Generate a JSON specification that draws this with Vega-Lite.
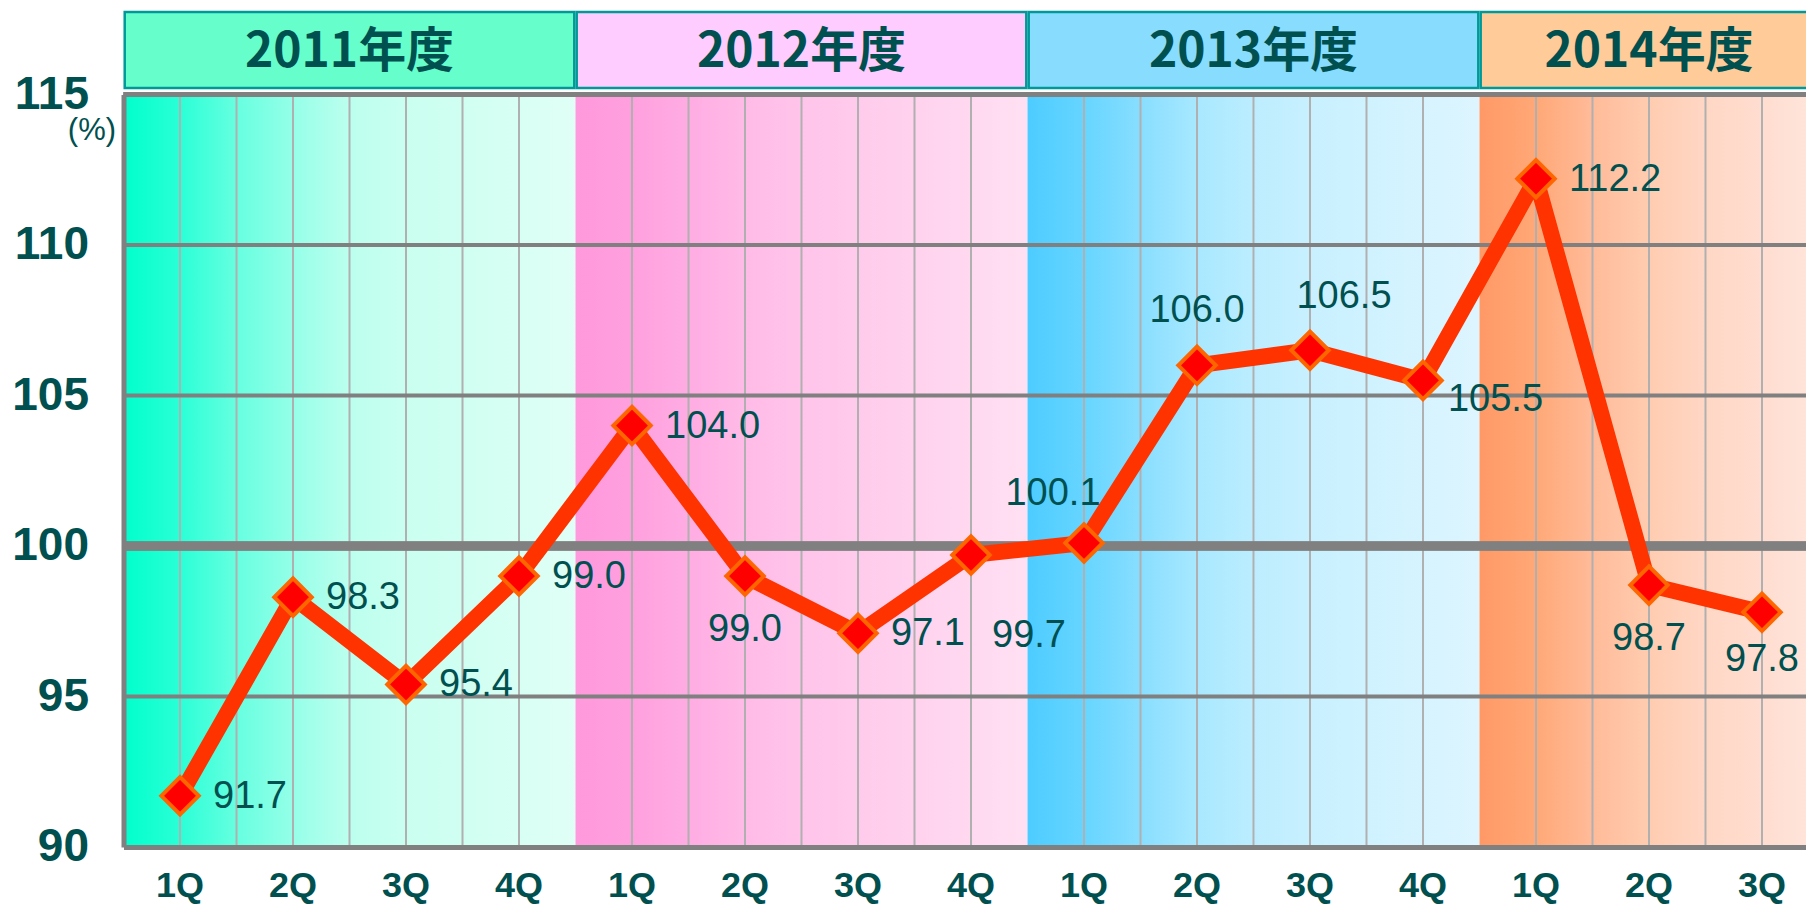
{
  "$schema": "https://vega.github.io/schema/vega-lite/v6.json",
  "width": 1695,
  "height": 752.6,
  "autosize": {"type": "none"},
  "padding": {"left": 123.5, "top": 94.4, "right": -12.5, "bottom": 61.6},
  "background": "white",
  "config": {"view": {"stroke": null}, "font": "Liberation Sans"},
  "resolve": {"axis": {"x": "independent", "y": "independent"}},
  "datasets": {
    "main": [
      {"key": "2011-1Q", "fy": "2011年度", "q": "1Q", "value": 91.7},
      {"key": "2011-2Q", "fy": "2011年度", "q": "2Q", "value": 98.3},
      {"key": "2011-3Q", "fy": "2011年度", "q": "3Q", "value": 95.4},
      {"key": "2011-4Q", "fy": "2011年度", "q": "4Q", "value": 99.0},
      {"key": "2012-1Q", "fy": "2012年度", "q": "1Q", "value": 104.0},
      {"key": "2012-2Q", "fy": "2012年度", "q": "2Q", "value": 99.0},
      {"key": "2012-3Q", "fy": "2012年度", "q": "3Q", "value": 97.1},
      {"key": "2012-4Q", "fy": "2012年度", "q": "4Q", "value": 99.7},
      {"key": "2013-1Q", "fy": "2013年度", "q": "1Q", "value": 100.1},
      {"key": "2013-2Q", "fy": "2013年度", "q": "2Q", "value": 106.0},
      {"key": "2013-3Q", "fy": "2013年度", "q": "3Q", "value": 106.5},
      {"key": "2013-4Q", "fy": "2013年度", "q": "4Q", "value": 105.5},
      {"key": "2014-1Q", "fy": "2014年度", "q": "1Q", "value": 112.2},
      {"key": "2014-2Q", "fy": "2014年度", "q": "2Q", "value": 98.7},
      {"key": "2014-3Q", "fy": "2014年度", "q": "3Q", "value": 97.8}
    ],
    "years": [
      {"fy": "2011年度", "first": "2011-1Q", "last": "2011-4Q"},
      {"fy": "2012年度", "first": "2012-1Q", "last": "2012-4Q"},
      {"fy": "2013年度", "first": "2013-1Q", "last": "2013-4Q"},
      {"fy": "2014年度", "first": "2014-1Q", "last": "2014-3Q"}
    ],
    "hgrid": [{"g": 95}, {"g": 105}, {"g": 110}]
  },
  "layer": [
    {
      "data": {"name": "years"},
      "transform": [{"filter": "datum.fy === '2011年度'"}],
      "mark": {"type": "rect", "fill": {"gradient": "linear", "x1": 0, "y1": 0, "x2": 1, "y2": 0, "stops": [
        {"offset": 0, "color": "#00FFCC"}, {"offset": 0.125, "color": "#2AFFD6"}, {"offset": 0.25, "color": "#66FFE0"},
        {"offset": 0.375, "color": "#95FFE8"}, {"offset": 0.5, "color": "#BCFFEE"}, {"offset": 0.625, "color": "#CAFFF0"},
        {"offset": 0.75, "color": "#D0FFF2"}, {"offset": 1, "color": "#E0FFF6"}]}},
      "encoding": {
        "x": {"field": "first", "type": "nominal", "bandPosition": 0, "title": null, "scale": {"type": "band", "paddingInner": 0, "paddingOuter": 0, "domain": ["2011-1Q","2011-2Q","2011-3Q","2011-4Q","2012-1Q","2012-2Q","2012-3Q","2012-4Q","2013-1Q","2013-2Q","2013-3Q","2013-4Q","2014-1Q","2014-2Q","2014-3Q"]},
          "axis": {"orient": "bottom", "labelExpr": "substring(datum.value, 5)", "labelAngle": 0, "labelFont": "Liberation Sans", "labelFontWeight": "bold", "labelFontSize": 36, "labelColor": "#005050", "labelPadding": 22, "ticks": false, "tickSize": 0, "domain": true, "domainColor": "#808080", "domainWidth": 5, "grid": false, "zindex": 1, "labelBaseline": "top"}},
        "x2": {"field": "last", "bandPosition": 1},
        "y": {"datum": 90, "type": "quantitative", "scale": {"domain": [90, 115], "nice": false, "zero": false},
          "axis": {"orient": "left", "values": [90, 95, 100, 105, 110, 115], "labelFont": "Liberation Sans", "labelFontWeight": "bold", "labelFontSize": 46, "labelColor": "#005050", "labelPadding": 35, "ticks": false, "tickSize": 0, "domain": true, "domainColor": "#808080", "domainWidth": 5, "grid": false, "zindex": 1, "labelFlush": false, "labelOverlap": false,
            "title": "(%)", "titleAngle": 0, "titleX": -8, "titleY": 36, "titleAlign": "right", "titleBaseline": "middle", "titleFont": "Liberation Sans", "titleFontSize": 31, "titleFontWeight": "normal", "titleColor": "#005050"}},
        "y2": {"datum": 115}
      }
    },
    {
      "data": {"name": "years"},
      "transform": [{"filter": "datum.fy === '2012年度'"}],
      "mark": {"type": "rect", "fill": {"gradient": "linear", "x1": 0, "y1": 0, "x2": 1, "y2": 0, "stops": [
        {"offset": 0, "color": "#FF99DD"}, {"offset": 0.125, "color": "#FFA0DE"}, {"offset": 0.25, "color": "#FFACE3"},
        {"offset": 0.375, "color": "#FFBBE7"}, {"offset": 0.5, "color": "#FFC4EA"}, {"offset": 0.625, "color": "#FFCBEC"},
        {"offset": 0.75, "color": "#FFD2EE"}, {"offset": 1, "color": "#FFE0F3"}]}},
      "encoding": {
        "x": {"field": "first", "type": "nominal", "bandPosition": 0, "axis": null, "scale": {"type": "band", "paddingInner": 0, "paddingOuter": 0, "domain": ["2011-1Q","2011-2Q","2011-3Q","2011-4Q","2012-1Q","2012-2Q","2012-3Q","2012-4Q","2013-1Q","2013-2Q","2013-3Q","2013-4Q","2014-1Q","2014-2Q","2014-3Q"]}},
        "x2": {"field": "last", "bandPosition": 1},
        "y": {"datum": 90, "type": "quantitative", "axis": null, "scale": {"domain": [90, 115], "nice": false, "zero": false}},
        "y2": {"datum": 115}
      }
    },
    {
      "data": {"name": "years"},
      "transform": [{"filter": "datum.fy === '2013年度'"}],
      "mark": {"type": "rect", "fill": {"gradient": "linear", "x1": 0, "y1": 0, "x2": 1, "y2": 0, "stops": [
        {"offset": 0, "color": "#4DCCFF"}, {"offset": 0.125, "color": "#66D5FF"}, {"offset": 0.25, "color": "#88DEFF"},
        {"offset": 0.375, "color": "#A8E8FF"}, {"offset": 0.5, "color": "#BCEDFF"}, {"offset": 0.625, "color": "#C8F0FF"},
        {"offset": 0.75, "color": "#CFF2FF"}, {"offset": 1, "color": "#DDF5FF"}]}},
      "encoding": {
        "x": {"field": "first", "type": "nominal", "bandPosition": 0, "axis": null, "scale": {"type": "band", "paddingInner": 0, "paddingOuter": 0, "domain": ["2011-1Q","2011-2Q","2011-3Q","2011-4Q","2012-1Q","2012-2Q","2012-3Q","2012-4Q","2013-1Q","2013-2Q","2013-3Q","2013-4Q","2014-1Q","2014-2Q","2014-3Q"]}},
        "x2": {"field": "last", "bandPosition": 1},
        "y": {"datum": 90, "type": "quantitative", "axis": null, "scale": {"domain": [90, 115], "nice": false, "zero": false}},
        "y2": {"datum": 115}
      }
    },
    {
      "data": {"name": "years"},
      "transform": [{"filter": "datum.fy === '2014年度'"}],
      "mark": {"type": "rect", "fill": {"gradient": "linear", "x1": 0, "y1": 0, "x2": 1, "y2": 0, "stops": [
        {"offset": 0, "color": "#FF9966"}, {"offset": 0.167, "color": "#FFA877"}, {"offset": 0.333, "color": "#FFBB99"},
        {"offset": 0.5, "color": "#FFCCB0"}, {"offset": 0.667, "color": "#FFD7C5"}, {"offset": 0.833, "color": "#FFDDD0"},
        {"offset": 1, "color": "#FFE6DC"}]}},
      "encoding": {
        "x": {"field": "first", "type": "nominal", "bandPosition": 0, "axis": null, "scale": {"type": "band", "paddingInner": 0, "paddingOuter": 0, "domain": ["2011-1Q","2011-2Q","2011-3Q","2011-4Q","2012-1Q","2012-2Q","2012-3Q","2012-4Q","2013-1Q","2013-2Q","2013-3Q","2013-4Q","2014-1Q","2014-2Q","2014-3Q"]}},
        "x2": {"field": "last", "bandPosition": 1},
        "y": {"datum": 90, "type": "quantitative", "axis": null, "scale": {"domain": [90, 115], "nice": false, "zero": false}},
        "y2": {"datum": 115}
      }
    },
    {
      "data": {"name": "main"},
      "mark": {"type": "rule", "color": "#B0B0B0", "strokeWidth": 2},
      "encoding": {
        "x": {"field": "key", "type": "nominal", "bandPosition": 0.5, "axis": null, "scale": {"type": "band", "paddingInner": 0, "paddingOuter": 0, "domain": ["2011-1Q","2011-2Q","2011-3Q","2011-4Q","2012-1Q","2012-2Q","2012-3Q","2012-4Q","2013-1Q","2013-2Q","2013-3Q","2013-4Q","2014-1Q","2014-2Q","2014-3Q"]}},
        "y": {"datum": 90, "type": "quantitative", "axis": null, "scale": {"domain": [90, 115], "nice": false, "zero": false}},
        "y2": {"datum": 115}
      }
    },
    {
      "data": {"name": "main"},
      "transform": [{"filter": "datum.q !== '1Q'"}],
      "mark": {"type": "rule", "color": "#B0B0B0", "strokeWidth": 2},
      "encoding": {
        "x": {"field": "key", "type": "nominal", "bandPosition": 0, "axis": null, "scale": {"type": "band", "paddingInner": 0, "paddingOuter": 0, "domain": ["2011-1Q","2011-2Q","2011-3Q","2011-4Q","2012-1Q","2012-2Q","2012-3Q","2012-4Q","2013-1Q","2013-2Q","2013-3Q","2013-4Q","2014-1Q","2014-2Q","2014-3Q"]}},
        "y": {"datum": 90, "type": "quantitative", "axis": null, "scale": {"domain": [90, 115], "nice": false, "zero": false}},
        "y2": {"datum": 115}
      }
    },
    {
      "data": {"name": "hgrid"},
      "mark": {"type": "rule", "color": "#808080", "strokeWidth": 4},
      "encoding": {
        "y": {"field": "g", "type": "quantitative", "axis": null, "scale": {"domain": [90, 115], "nice": false, "zero": false}}
      }
    },
    {
      "data": {"name": "hgrid"},
      "mark": {"type": "rule", "color": "#808080", "strokeWidth": 9},
      "encoding": {
        "y": {"datum": 100, "type": "quantitative", "axis": null, "scale": {"domain": [90, 115], "nice": false, "zero": false}}
      }
    },
    {
      "data": {"name": "hgrid"},
      "mark": {"type": "rule", "color": "#808080", "strokeWidth": 5},
      "encoding": {
        "y": {"datum": 115, "type": "quantitative", "axis": null, "scale": {"domain": [90, 115], "nice": false, "zero": false}}
      }
    },
    {
      "data": {"name": "years"},
      "mark": {"type": "rect", "stroke": "#009999", "strokeWidth": 2.5, "xOffset": 1.2, "x2Offset": -1.2},
      "encoding": {
        "x": {"field": "first", "type": "nominal", "bandPosition": 0, "axis": null, "scale": {"type": "band", "paddingInner": 0, "paddingOuter": 0, "domain": ["2011-1Q","2011-2Q","2011-3Q","2011-4Q","2012-1Q","2012-2Q","2012-3Q","2012-4Q","2013-1Q","2013-2Q","2013-3Q","2013-4Q","2014-1Q","2014-2Q","2014-3Q"]}},
        "x2": {"field": "last", "bandPosition": 1},
        "y": {"datum": 115.21, "type": "quantitative", "axis": null, "scale": {"domain": [90, 115], "nice": false, "zero": false}},
        "y2": {"datum": 117.74},
        "color": {"field": "fy", "type": "nominal", "legend": null, "scale": {"domain": ["2011年度", "2012年度", "2013年度", "2014年度"], "range": ["#66FFCC", "#FFCCFF", "#88DDFF", "#FFCC99"]}}
      }
    },
    {
      "data": {"name": "years"},
      "transform": [{"filter": "datum.fy !== '2014年度'"}],
      "mark": {"type": "text", "font": "Noto Sans CJK JP", "fontWeight": "bold", "fontSize": 48, "color": "#005050", "align": "center", "baseline": "middle", "dy": 3},
      "encoding": {
        "x": {"field": "first", "type": "nominal", "bandPosition": 2, "axis": null, "scale": {"type": "band", "paddingInner": 0, "paddingOuter": 0, "domain": ["2011-1Q","2011-2Q","2011-3Q","2011-4Q","2012-1Q","2012-2Q","2012-3Q","2012-4Q","2013-1Q","2013-2Q","2013-3Q","2013-4Q","2014-1Q","2014-2Q","2014-3Q"]}},
        "y": {"datum": 116.475, "type": "quantitative", "axis": null, "scale": {"domain": [90, 115], "nice": false, "zero": false}},
        "text": {"field": "fy"}
      }
    },
    {
      "data": {"name": "years"},
      "transform": [{"filter": "datum.fy === '2014年度'"}],
      "mark": {"type": "text", "font": "Noto Sans CJK JP", "fontWeight": "bold", "fontSize": 48, "color": "#005050", "align": "center", "baseline": "middle", "dy": 3},
      "encoding": {
        "x": {"field": "first", "type": "nominal", "bandPosition": 1.5, "axis": null, "scale": {"type": "band", "paddingInner": 0, "paddingOuter": 0, "domain": ["2011-1Q","2011-2Q","2011-3Q","2011-4Q","2012-1Q","2012-2Q","2012-3Q","2012-4Q","2013-1Q","2013-2Q","2013-3Q","2013-4Q","2014-1Q","2014-2Q","2014-3Q"]}},
        "y": {"datum": 116.475, "type": "quantitative", "axis": null, "scale": {"domain": [90, 115], "nice": false, "zero": false}},
        "text": {"field": "fy"}
      }
    },
    {
      "data": {"name": "main"},
      "mark": {"type": "line", "color": "#FF3300", "strokeWidth": 16, "strokeJoin": "bevel"},
      "encoding": {
        "x": {"field": "key", "type": "nominal", "bandPosition": 0.5, "axis": null, "scale": {"type": "band", "paddingInner": 0, "paddingOuter": 0, "domain": ["2011-1Q","2011-2Q","2011-3Q","2011-4Q","2012-1Q","2012-2Q","2012-3Q","2012-4Q","2013-1Q","2013-2Q","2013-3Q","2013-4Q","2014-1Q","2014-2Q","2014-3Q"]}},
        "y": {"field": "value", "type": "quantitative", "axis": null, "scale": {"domain": [90, 115], "nice": false, "zero": false}}
      }
    },
    {
      "data": {"name": "main"},
      "mark": {"type": "point", "shape": "diamond", "filled": true, "fill": "#FF0000", "stroke": "#FF6600", "strokeWidth": 4, "size": 1400, "opacity": 1},
      "encoding": {
        "x": {"field": "key", "type": "nominal", "bandPosition": 0.5, "axis": null, "scale": {"type": "band", "paddingInner": 0, "paddingOuter": 0, "domain": ["2011-1Q","2011-2Q","2011-3Q","2011-4Q","2012-1Q","2012-2Q","2012-3Q","2012-4Q","2013-1Q","2013-2Q","2013-3Q","2013-4Q","2014-1Q","2014-2Q","2014-3Q"]}},
        "y": {"field": "value", "type": "quantitative", "axis": null, "scale": {"domain": [90, 115], "nice": false, "zero": false}}
      }
    },
    {
      "data": {"name": "main"},
      "transform": [{"filter": "indexof(['2011-1Q','2011-2Q','2011-3Q','2011-4Q','2012-1Q','2012-3Q','2014-1Q'], datum.key) >= 0"}],
      "mark": {"type": "text", "fontSize": 38, "color": "#005050", "align": "left", "baseline": "middle", "dx": 33, "dy": 1},
      "encoding": {
        "x": {"field": "key", "type": "nominal", "bandPosition": 0.5, "axis": null, "scale": {"type": "band", "paddingInner": 0, "paddingOuter": 0, "domain": ["2011-1Q","2011-2Q","2011-3Q","2011-4Q","2012-1Q","2012-2Q","2012-3Q","2012-4Q","2013-1Q","2013-2Q","2013-3Q","2013-4Q","2014-1Q","2014-2Q","2014-3Q"]}},
        "y": {"field": "value", "type": "quantitative", "axis": null, "scale": {"domain": [90, 115], "nice": false, "zero": false}},
        "text": {"field": "value", "format": ".1f"}
      }
    },
    {
      "data": {"name": "main"},
      "transform": [{"filter": "indexof(['2012-2Q','2014-2Q'], datum.key) >= 0"}],
      "mark": {"type": "text", "fontSize": 38, "color": "#005050", "align": "center", "baseline": "middle", "dx": 0, "dy": 54},
      "encoding": {
        "x": {"field": "key", "type": "nominal", "bandPosition": 0.5, "axis": null, "scale": {"type": "band", "paddingInner": 0, "paddingOuter": 0, "domain": ["2011-1Q","2011-2Q","2011-3Q","2011-4Q","2012-1Q","2012-2Q","2012-3Q","2012-4Q","2013-1Q","2013-2Q","2013-3Q","2013-4Q","2014-1Q","2014-2Q","2014-3Q"]}},
        "y": {"field": "value", "type": "quantitative", "axis": null, "scale": {"domain": [90, 115], "nice": false, "zero": false}},
        "text": {"field": "value", "format": ".1f"}
      }
    },
    {
      "data": {"name": "main"},
      "transform": [{"filter": "datum.key === '2014-3Q'"}],
      "mark": {"type": "text", "fontSize": 38, "color": "#005050", "align": "center", "baseline": "middle", "dx": 0, "dy": 48},
      "encoding": {
        "x": {"field": "key", "type": "nominal", "bandPosition": 0.5, "axis": null, "scale": {"type": "band", "paddingInner": 0, "paddingOuter": 0, "domain": ["2011-1Q","2011-2Q","2011-3Q","2011-4Q","2012-1Q","2012-2Q","2012-3Q","2012-4Q","2013-1Q","2013-2Q","2013-3Q","2013-4Q","2014-1Q","2014-2Q","2014-3Q"]}},
        "y": {"field": "value", "type": "quantitative", "axis": null, "scale": {"domain": [90, 115], "nice": false, "zero": false}},
        "text": {"field": "value", "format": ".1f"}
      }
    },
    {
      "data": {"name": "main"},
      "transform": [{"filter": "datum.key === '2012-4Q'"}],
      "mark": {"type": "text", "fontSize": 38, "color": "#005050", "align": "center", "baseline": "middle", "dx": 58, "dy": 81},
      "encoding": {
        "x": {"field": "key", "type": "nominal", "bandPosition": 0.5, "axis": null, "scale": {"type": "band", "paddingInner": 0, "paddingOuter": 0, "domain": ["2011-1Q","2011-2Q","2011-3Q","2011-4Q","2012-1Q","2012-2Q","2012-3Q","2012-4Q","2013-1Q","2013-2Q","2013-3Q","2013-4Q","2014-1Q","2014-2Q","2014-3Q"]}},
        "y": {"field": "value", "type": "quantitative", "axis": null, "scale": {"domain": [90, 115], "nice": false, "zero": false}},
        "text": {"field": "value", "format": ".1f"}
      }
    },
    {
      "data": {"name": "main"},
      "transform": [{"filter": "datum.key === '2013-1Q'"}],
      "mark": {"type": "text", "fontSize": 38, "color": "#005050", "align": "center", "baseline": "middle", "dx": -31, "dy": -49},
      "encoding": {
        "x": {"field": "key", "type": "nominal", "bandPosition": 0.5, "axis": null, "scale": {"type": "band", "paddingInner": 0, "paddingOuter": 0, "domain": ["2011-1Q","2011-2Q","2011-3Q","2011-4Q","2012-1Q","2012-2Q","2012-3Q","2012-4Q","2013-1Q","2013-2Q","2013-3Q","2013-4Q","2014-1Q","2014-2Q","2014-3Q"]}},
        "y": {"field": "value", "type": "quantitative", "axis": null, "scale": {"domain": [90, 115], "nice": false, "zero": false}},
        "text": {"field": "value", "format": ".1f"}
      }
    },
    {
      "data": {"name": "main"},
      "transform": [{"filter": "datum.key === '2013-2Q'"}],
      "mark": {"type": "text", "fontSize": 38, "color": "#005050", "align": "center", "baseline": "middle", "dx": 0, "dy": -54},
      "encoding": {
        "x": {"field": "key", "type": "nominal", "bandPosition": 0.5, "axis": null, "scale": {"type": "band", "paddingInner": 0, "paddingOuter": 0, "domain": ["2011-1Q","2011-2Q","2011-3Q","2011-4Q","2012-1Q","2012-2Q","2012-3Q","2012-4Q","2013-1Q","2013-2Q","2013-3Q","2013-4Q","2014-1Q","2014-2Q","2014-3Q"]}},
        "y": {"field": "value", "type": "quantitative", "axis": null, "scale": {"domain": [90, 115], "nice": false, "zero": false}},
        "text": {"field": "value", "format": ".1f"}
      }
    },
    {
      "data": {"name": "main"},
      "transform": [{"filter": "datum.key === '2013-3Q'"}],
      "mark": {"type": "text", "fontSize": 38, "color": "#005050", "align": "center", "baseline": "middle", "dx": 34, "dy": -53},
      "encoding": {
        "x": {"field": "key", "type": "nominal", "bandPosition": 0.5, "axis": null, "scale": {"type": "band", "paddingInner": 0, "paddingOuter": 0, "domain": ["2011-1Q","2011-2Q","2011-3Q","2011-4Q","2012-1Q","2012-2Q","2012-3Q","2012-4Q","2013-1Q","2013-2Q","2013-3Q","2013-4Q","2014-1Q","2014-2Q","2014-3Q"]}},
        "y": {"field": "value", "type": "quantitative", "axis": null, "scale": {"domain": [90, 115], "nice": false, "zero": false}},
        "text": {"field": "value", "format": ".1f"}
      }
    },
    {
      "data": {"name": "main"},
      "transform": [{"filter": "datum.key === '2013-4Q'"}],
      "mark": {"type": "text", "fontSize": 38, "color": "#005050", "align": "left", "baseline": "middle", "dx": 25, "dy": 20},
      "encoding": {
        "x": {"field": "key", "type": "nominal", "bandPosition": 0.5, "axis": null, "scale": {"type": "band", "paddingInner": 0, "paddingOuter": 0, "domain": ["2011-1Q","2011-2Q","2011-3Q","2011-4Q","2012-1Q","2012-2Q","2012-3Q","2012-4Q","2013-1Q","2013-2Q","2013-3Q","2013-4Q","2014-1Q","2014-2Q","2014-3Q"]}},
        "y": {"field": "value", "type": "quantitative", "axis": null, "scale": {"domain": [90, 115], "nice": false, "zero": false}},
        "text": {"field": "value", "format": ".1f"}
      }
    }
  ]
}
